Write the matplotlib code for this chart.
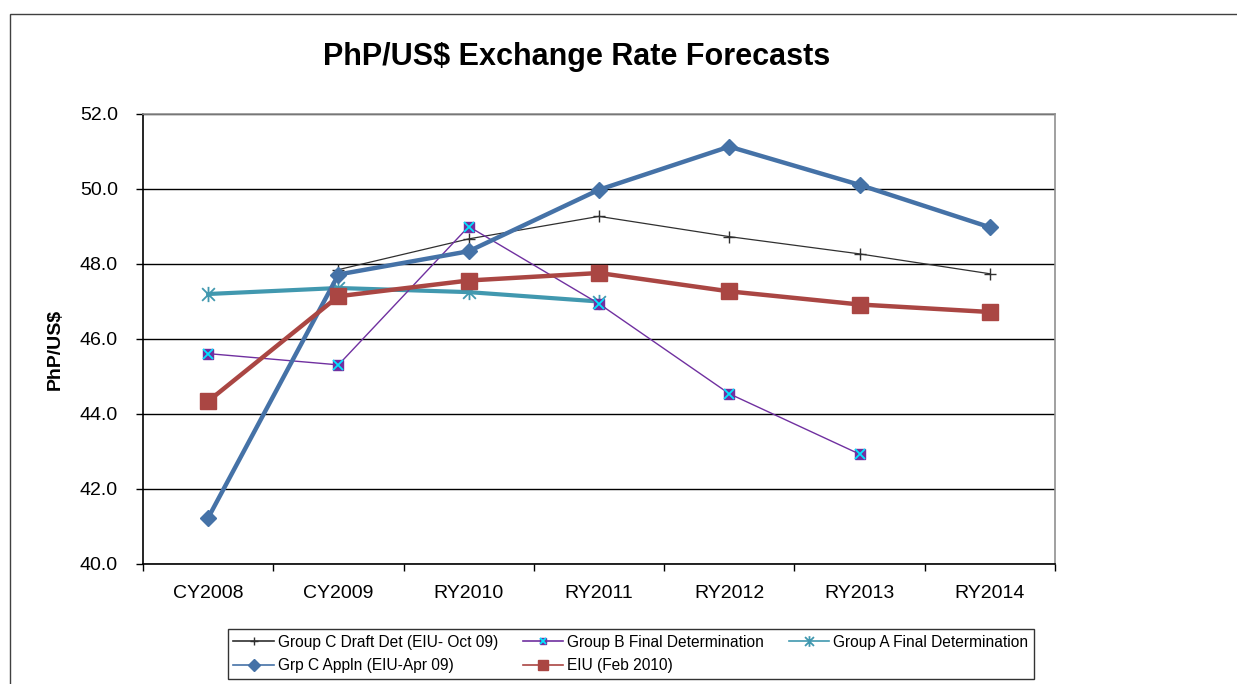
import numpy as np
import matplotlib
matplotlib.use('Agg')
import matplotlib.pyplot as plt
from matplotlib.patches import Rectangle
from matplotlib.path import Path
from matplotlib.legend_handler import HandlerTuple

plt.rcParams['font.family'] = ['Liberation Sans', 'DejaVu Sans']

# categories on the x axis
years = ['CY2008', 'CY2009', 'RY2010', 'RY2011', 'RY2012', 'RY2013', 'RY2014']

# series values (nan = no point)
grp_c_draft = [np.nan, 47.85, 48.67, 49.27, 48.73, 48.27, 47.74]
grp_b_final = [45.61, 45.31, 49.0, 46.94, 44.54, 42.93, np.nan]
grp_a_final = [47.2, 47.36, 47.25, 47.0, np.nan, np.nan, np.nan]
grp_c_appln = [41.23, 47.72, 48.34, 49.98, 51.13, 50.11, 48.98]
eiu_feb2010 = [44.34, 47.14, 47.56, 47.76, 47.27, 46.92, 46.72]

yticks = [40.0, 42.0, 44.0, 46.0, 48.0, 50.0, 52.0]

# excel style star: an x with a vertical bar through it
star = Path([(-1, -1), (1, 1), (-1, 1), (1, -1), (0, -1.2), (0, 1.2)],
            [Path.MOVETO, Path.LINETO, Path.MOVETO, Path.LINETO, Path.MOVETO, Path.LINETO])

fig = plt.figure(figsize=(12.37, 6.84), dpi=100)
W, H = 1237, 684
ax = fig.add_axes([143 / W, 1 - 564 / H, (1055 - 143) / W, (564 - 114) / H])

x = np.arange(len(years))

# outer chart frame
fig.patches.append(Rectangle((10 / W, -0.1), 1.2, 1 - 14 / H + 0.1, transform=fig.transFigure,
                             fill=False, edgecolor='#404040', linewidth=1.0))

l1, = ax.plot(x, grp_c_draft, color='#303030', lw=0.9, marker='+', ms=8, mew=1.0, zorder=3)
l2, = ax.plot(x, grp_b_final, color='#7030A0', lw=1.0, marker='s', ms=7, mfc='#7030A0',
              mec='#7030A0', zorder=4)
l2x, = ax.plot(x, grp_b_final, ls='none', marker='x', ms=7, mew=1.3, color='#00E5FF', zorder=4.5)
l3, = ax.plot(x, grp_a_final, color='#4198AF', lw=3.0, marker=star, ms=11, mew=1.3,
              mec='#4198AF', zorder=3.5)
l4, = ax.plot(x, grp_c_appln, color='#4572A7', lw=3.2, marker='D', ms=8.5, zorder=5)
l5, = ax.plot(x, eiu_feb2010, color='#AA4643', lw=3.2, marker='s', ms=11, zorder=6)

ax.set_xlim(-0.5, len(years) - 0.5)
ax.set_ylim(40, 52)
ax.set_yticks(yticks)
ax.set_yticklabels(['%.1f' % v for v in yticks], fontsize=14)
ax.set_xticks(x)
ax.set_xticklabels(years, fontsize=14)
ax.set_xticks(np.arange(-0.5, len(years)), minor=True)
ax.tick_params(axis='x', which='major', length=0, pad=15)
ax.tick_params(axis='x', which='minor', length=5, width=1, direction='out')
ax.tick_params(axis='y', length=5, width=1, direction='out', pad=13)
ax.yaxis.grid(True, color='black', lw=1.0)
ax.set_axisbelow(True)

for s in ['top', 'right']:
    ax.spines[s].set_color('#909090')
    ax.spines[s].set_linewidth(1.2)
for s in ['left', 'bottom']:
    ax.spines[s].set_color('black')
    ax.spines[s].set_linewidth(1.2)

fig.text(55 / W, 1 - 349 / H, 'PhP/US$', fontsize=14, fontweight='bold', rotation=90,
         ha='center', va='center')
fig.text(577 / W, 1 - 57 / H, 'PhP/US$ Exchange Rate Forecasts', fontsize=22,
         fontweight='bold', ha='center', va='center')

handles = [l1, l4, (l2, l2x), l5, l3]
labels = ['Group C Draft Det (EIU- Oct 09)', 'Grp C Appln (EIU-Apr 09)',
          'Group B Final Determination', 'EIU (Feb 2010)', 'Group A Final Determination']
leg = fig.legend(handles, labels, ncol=3, loc='center', bbox_to_anchor=(631 / W, 1 - 654 / H),
                 fontsize=11.2, frameon=True, fancybox=False, edgecolor='black',
                 handlelength=2.6, handletextpad=0.25, columnspacing=1.6, labelspacing=0.55,
                 borderpad=0.35, markerscale=0.7,
                 handler_map={tuple: HandlerTuple(ndivide=1, pad=0)})
leg.get_frame().set_linewidth(1.0)
for h in leg.legend_handles:
    try:
        h.set_linewidth(1.2)
    except Exception:
        pass

fig.savefig('out.png', dpi=100)
